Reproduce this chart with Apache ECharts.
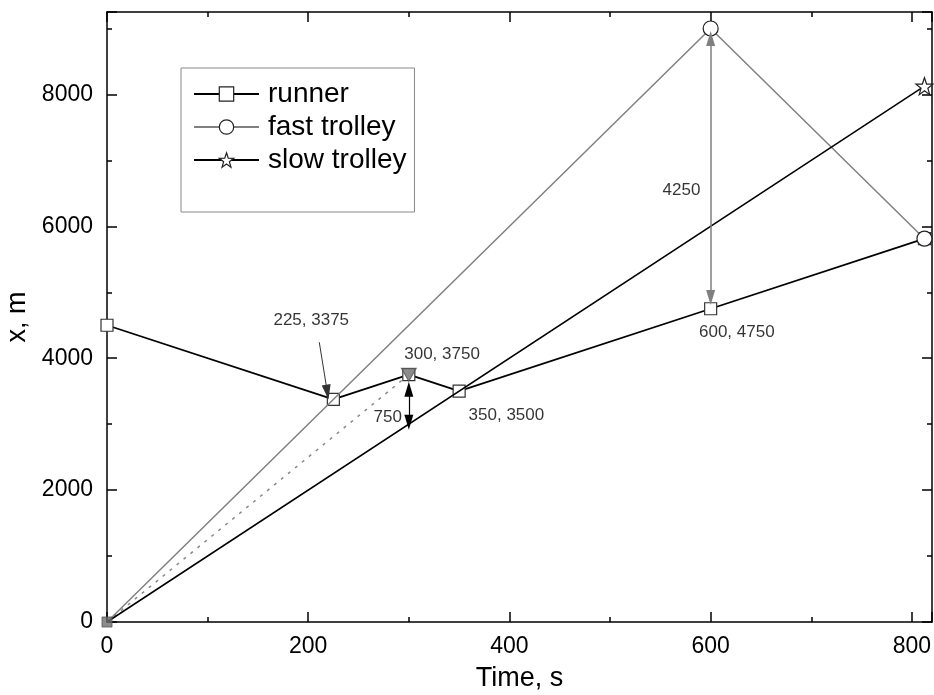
<!DOCTYPE html>
<html><head><meta charset="utf-8">
<script src="https://cdn.jsdelivr.net/npm/echarts@6/dist/echarts.min.js"></script>
<style>html,body{margin:0;padding:0;background:#fff}#c{width:934px;height:695px}</style>
</head><body><div id="c"></div>
<script>
// ---- data ----
const runnerT = [0, 225, 300, 350, 600, 812.5];
const runnerX = [4500, 3375, 3750, 3500, 4750, 5812.5];
const fastT = [0, 600, 812.5];
const fastX = [0, 9000, 5812.5];
const slowT = [0, 812.5];
const slowX = [0, 8125];
const meetT = [0, 300];
const meetX = [0, 3750];
const noteText = ['225, 3375', '300, 3750', '750', '350, 3500', '600, 4750', '4250'];
const noteT = [203, 333, 279, 397, 626, 571];
const noteX = [4580, 4061, 3106, 3136, 4394, 6545];
// arrows: [t1, x1, t2, x2]
const arrow225 = [211, 4242, 219, 3485];
const arrow750 = [300, 3530, 300, 3030];
const arrow4250 = [600, 8850, 600, 4920];
const xTicks = [0, 200, 400, 600, 800];
const yTicks = [0, 2000, 4000, 6000, 8000];

const zip = (a, b) => a.map((v, i) => [v, b[i]]);
const FONT = 'Liberation Sans, Arial, sans-serif';
const chart = echarts.init(document.getElementById('c'), null, {renderer: 'canvas'});

const axisCommon = {
  axisLine: {show: true, onZero: false, lineStyle: {color: '#000', width: 1.5}},
  axisTick: {show: true, inside: true, length: 10, lineStyle: {color: '#000', width: 1.5}},
  minorTick: {show: true, splitNumber: 2, length: 5, lineStyle: {color: '#000', width: 1.5}},
  splitLine: {show: false}
};
const STAR = 'path://M0,-10 L2.35,-3.24 L9.51,-3.09 L3.8,1.24 L5.88,8.09 L0,4 L-5.88,8.09 L-3.8,1.24 L-9.51,-3.09 L-2.35,-3.24 Z';
const hollow = {color: '#fff', borderColor: '#222', borderWidth: 1.2};

chart.setOption({
  animation: false,
  backgroundColor: '#fff',
  grid: {left: 107, right: 2, top: 12, bottom: 73, containLabel: false, outerBoundsMode: 'none'},
  legend: {
    left: 181, top: 68, orient: 'vertical',
    borderColor: '#888', borderWidth: 1,
    padding: [11, 8, 37, 12],
    itemWidth: 65, itemHeight: 18, itemGap: 3,
    data: [
      {name: 'runner', itemStyle: hollow},
      {name: 'fast trolley', itemStyle: hollow},
      {name: 'slow trolley', itemStyle: hollow}
    ],
    textStyle: {fontFamily: FONT, fontSize: 28, color: '#000', lineHeight: 30, padding: [0, 0, 0, 4]}
  },
  xAxis: [
    Object.assign({}, axisCommon, {
      type: 'value', min: 0, max: 820, interval: 200, position: 'bottom',
      name: 'Time, s', nameLocation: 'middle', nameGap: 43,
      nameTextStyle: {fontFamily: FONT, fontSize: 27, color: '#000'},
      axisLabel: {color: '#000', fontFamily: FONT, fontSize: 23, margin: 13, showMaxLabel: false,
        formatter: v => xTicks.includes(v) ? String(v) : ''}
    }),
    Object.assign({}, axisCommon, {
      type: 'value', min: 0, max: 820, interval: 200, position: 'top',
      axisLabel: {show: false}
    })
  ],
  yAxis: [
    Object.assign({}, axisCommon, {
      type: 'value', min: 0, max: 9250, interval: 2000, position: 'left',
      name: 'x, m', nameLocation: 'middle', nameGap: 69,
      nameTextStyle: {fontFamily: FONT, fontSize: 27, color: '#000'},
      axisLabel: {color: '#000', fontFamily: FONT, fontSize: 23, margin: 14, showMaxLabel: false,
        formatter: v => yTicks.includes(v) ? String(v) : ''}
    }),
    Object.assign({}, axisCommon, {
      type: 'value', min: 0, max: 9250, interval: 2000, position: 'right',
      axisLabel: {show: false}
    })
  ],
  series: [
    {
      name: 'meet', type: 'line', data: zip(meetT, meetX),
      lineStyle: {color: '#888', width: 1.5, type: [3, 6]}, symbol: 'none', z: 1
    },
    {
      name: 'fast trolley', type: 'line',
      data: zip(fastT, fastX).map((v, i) => i === 0 ? {value: v, symbol: 'none'} : v),
      color: '#808080',
      lineStyle: {color: '#808080', width: 1.5},
      symbol: 'circle', symbolSize: 15, showAllSymbol: true,
      itemStyle: hollow, z: 3
    },
    {
      name: 'slow trolley', type: 'line',
      data: zip(slowT, slowX).map((v, i) => i === 0 ? {value: v, symbol: 'none'} : v),
      color: '#000',
      lineStyle: {color: '#000', width: 1.5},
      symbol: STAR, symbolSize: 17, showAllSymbol: true,
      itemStyle: hollow, z: 3
    },
    {
      name: 'runner', type: 'line', data: zip(runnerT, runnerX),
      color: '#000',
      lineStyle: {color: '#000', width: 1.8},
      symbol: 'rect', symbolSize: 12, showAllSymbol: true,
      itemStyle: {color: '#fff', borderColor: '#333', borderWidth: 1.2}, z: 2
    },
    {
      name: 'marks', type: 'scatter', xAxisIndex: 0, yAxisIndex: 0,
      data: [
        {value: [meetT[0], meetX[0]], symbol: 'rect', symbolSize: 10},
        {value: [meetT[1], meetX[1]], symbol: 'triangle', symbolRotate: 180, symbolSize: [15, 13]}
      ],
      itemStyle: {color: '#6e6e6e', borderColor: '#555', borderWidth: 1}, z: 5
    },
    {
      name: 'notes', type: 'scatter', symbolSize: 0,
      data: noteT.map((t, i) => ({value: [t, noteX[i]], name: noteText[i]})),
      label: {show: true, position: 'inside', formatter: p => p.name,
        color: '#000', fontFamily: FONT, fontSize: 17},
      silent: true, z: 6,
      markLine: {
        silent: true, animation: false, label: {show: false},
        symbolSize: [9, 15],
        data: [
          [{coord: [arrow225[0], arrow225[1]], symbol: 'none', lineStyle: {color: '#333', width: 1, type: 'solid'}},
           {coord: [arrow225[2], arrow225[3]], symbol: 'triangle'}],
          [{coord: [arrow750[0], arrow750[1]], symbol: 'triangle', lineStyle: {color: '#000', width: 1.2, type: 'solid'}},
           {coord: [arrow750[2], arrow750[3]], symbol: 'triangle'}],
          [{coord: [arrow4250[0], arrow4250[1]], symbol: 'triangle', lineStyle: {color: '#808080', width: 1.5, type: 'solid'}},
           {coord: [arrow4250[2], arrow4250[3]], symbol: 'triangle', itemStyle: {color: '#000'}}]
        ],
        itemStyle: {color: '#000'}
      }
    }
  ]
});
</script></body></html>
